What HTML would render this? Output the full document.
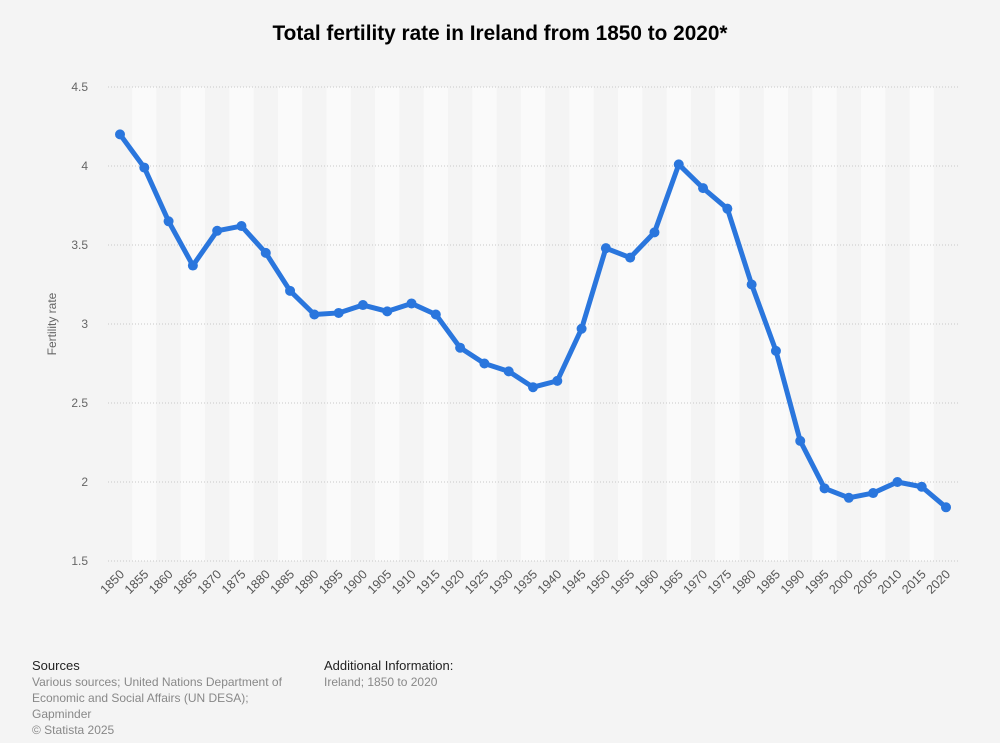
<!DOCTYPE html>
<html><head><meta charset="utf-8"><style>
body{margin:0;background:#f4f4f4;font-family:"Liberation Sans",Arial,sans-serif;}
#wrap{position:relative;width:1000px;height:743px;background:#f4f4f4;}
.title{position:absolute;top:22px;left:0;width:1000px;text-align:center;font-weight:bold;font-size:20.8px;color:#000;}
.foot{position:absolute;font-size:12px;color:#888;line-height:16px;}
.foot b{font-weight:normal;color:#222;font-size:13px;}
</style></head><body>
<div id="wrap">
<div class="title">Total fertility rate in Ireland from 1850 to 2020*</div>
<svg id="chart" width="1000" height="743" style="position:absolute;left:0;top:0"></svg>
<div class="foot" style="left:32px;top:658px"><b>Sources</b><br>Various sources; United Nations Department of<br>Economic and Social Affairs (UN DESA);<br>Gapminder<br>© Statista 2025</div>
<div class="foot" style="left:324px;top:658px"><b>Additional Information:</b><br>Ireland; 1850 to 2020</div>
</div>
<script>
const years=[1850,1855,1860,1865,1870,1875,1880,1885,1890,1895,1900,1905,1910,1915,1920,1925,1930,1935,1940,1945,1950,1955,1960,1965,1970,1975,1980,1985,1990,1995,2000,2005,2010,2015,2020];
const rates=[4.2,3.99,3.65,3.37,3.59,3.62,3.45,3.21,3.06,3.07,3.12,3.08,3.13,3.06,2.85,2.75,2.70,2.60,2.64,2.97,3.48,3.42,3.58,4.01,3.86,3.73,3.25,2.83,2.26,1.96,1.90,1.93,2.00,1.97,1.84];
const yTicks=[1.5,2,2.5,3,3.5,4,4.5];
const NS="http://www.w3.org/2000/svg";
const svg=document.getElementById('chart');
const x0=120,x1=946,yTop=87,yBot=561,yMin=1.5,yMax=4.5,left=108,right=958;
const step=(x1-x0)/(years.length-1);
const X=i=>x0+i*step;
const Y=v=>yBot-(v-yMin)/(yMax-yMin)*(yBot-yTop);
function mk(t,a){const e=document.createElementNS(NS,t);for(const k in a)e.setAttribute(k,a[k]);svg.appendChild(e);return e;}
years.forEach((y,i)=>{if(i%2===1){const r=mk('rect',{x:X(i)-step/2,y:yTop,width:step,height:yBot-yTop,fill:'#fafafa'});

}});
yTicks.forEach(t=>{const l=mk('line',{x1:left,x2:right,y1:Y(t),y2:Y(t),stroke:'#c8c8c8','stroke-dasharray':'1,2'});


const tx=mk('text',{x:88,y:Y(t)+4,'text-anchor':'end','font-size':12,fill:'#666','font-family':'Liberation Sans,sans-serif'});tx.textContent=t;

});
years.forEach((y,i)=>{const tx=mk('text',{x:X(i)+5,y:575,'text-anchor':'end','font-size':12.5,fill:'#555','font-family':'Liberation Sans,sans-serif',transform:`rotate(-45 ${X(i)+5} 575)`});tx.textContent=y;

});
const yt=mk('text',{x:56,y:324,'text-anchor':'middle','font-size':12,fill:'#666','font-family':'Liberation Sans,sans-serif',transform:'rotate(-90 56 324)'});yt.textContent='Fertility rate';


const pl=mk('polyline',{points:rates.map((v,i)=>X(i)+','+Y(v)).join(' '),fill:'none',stroke:'#2a76dd','stroke-width':5,'stroke-linejoin':'round'});


rates.forEach((v,i)=>{const c=mk('circle',{cx:X(i),cy:Y(v),r:5,fill:'#2a76dd'});

});
</script>
</body></html>
